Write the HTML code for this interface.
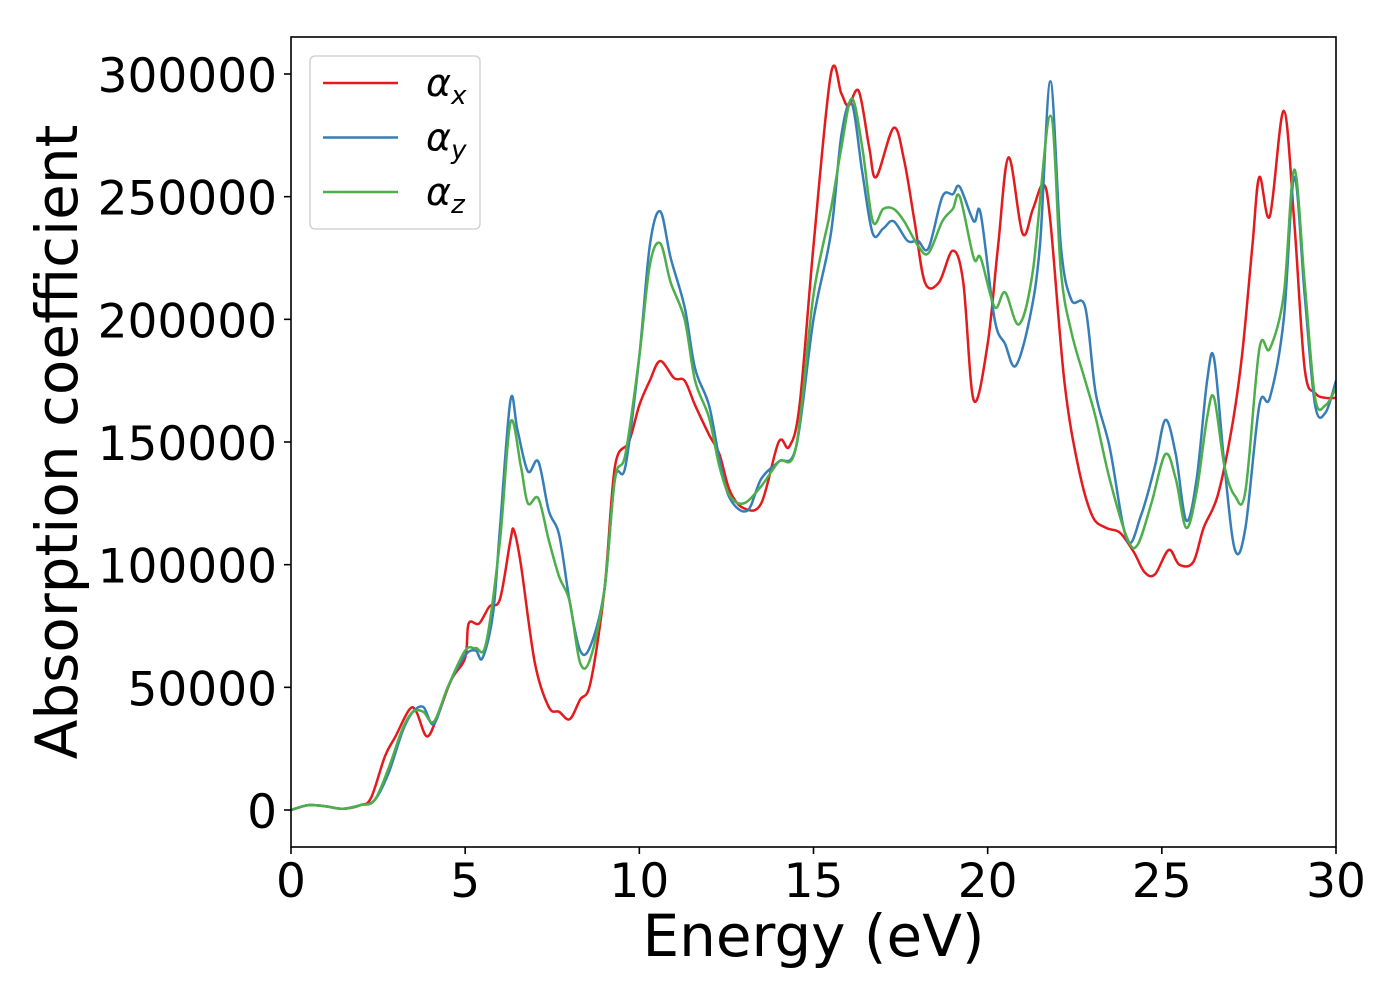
<!DOCTYPE html>
<html><head><meta charset="utf-8"><style>
html,body{margin:0;padding:0;background:#fff;}
svg{display:block;font-family:"DejaVu Sans","Liberation Sans",sans-serif;}
</style></head><body>
<svg id="chart" width="1400" height="1000" viewBox="0 0 1400 1000">
<g id="plot"></g>
</svg>
<script>
const xTicks=[0,5,10,15,20,25,30];
const yTicks=[0,50000,100000,150000,200000,250000,300000];
const seriesNames=["x","y","z"];
const seriesColors=["#e41a1c","#377eb8","#4daf4a"];
const xX=[0,0.5,1,1.5,2,2.3,2.7,3,3.4,3.6,3.9,4.2,4.6,5,5.1,5.4,5.7,6,6.3,6.4,6.6,7,7.4,7.7,8,8.3,8.6,9,9.3,9.7,10,10.3,10.6,11,11.3,11.6,12,12.3,12.6,13,13.5,14,14.3,14.6,15,15.5,15.8,16,16.3,16.6,16.8,17.3,17.6,17.9,18.2,18.6,19,19.3,19.6,20,20.3,20.6,21,21.3,21.6,21.8,22.2,22.6,23,23.4,23.8,24.2,24.5,24.8,25.2,25.5,25.9,26.2,26.6,27,27.3,27.6,27.8,28.1,28.5,28.8,29.1,29.4,29.7,30];
const yX=[0,2000,1500,500,2000,5000,22000,30000,41000,40000,30000,38000,53000,62000,76000,76000,83000,86000,110000,114000,100000,60000,42000,40000,37000,45000,52000,90000,140000,150000,165000,175000,183000,176000,175000,165000,153000,145000,130000,123000,125000,150000,148000,165000,230000,300000,292000,287000,293000,270000,258000,278000,265000,240000,215000,215000,228000,215000,167000,190000,230000,266000,235000,245000,255000,240000,175000,140000,120000,115000,113000,105000,97000,96000,106000,100000,101000,115000,128000,155000,185000,230000,258000,242000,285000,240000,180000,170000,168000,168000];
const xY=[0,0.5,1,1.5,2,2.4,2.8,3.2,3.5,3.8,4.1,4.5,5,5.3,5.5,5.8,6,6.3,6.5,6.8,7.1,7.4,7.7,8,8.3,8.6,9,9.3,9.6,10,10.3,10.6,10.9,11.3,11.6,12,12.3,12.6,13.1,13.5,14,14.5,15,15.5,15.8,16.1,16.4,16.7,17,17.3,17.7,18,18.3,18.7,19,19.2,19.6,19.8,20.2,20.5,20.8,21.2,21.5,21.8,22.1,22.4,22.8,23.1,23.5,24,24.4,24.8,25.1,25.4,25.7,26,26.3,26.5,26.8,27.1,27.4,27.8,28.1,28.5,28.8,29.1,29.4,29.7,30];
const yY=[0,2000,1500,500,2000,4000,15000,32000,40000,42000,35000,50000,63000,65000,62000,80000,115000,167000,155000,138000,142000,122000,112000,85000,65000,67000,90000,135000,140000,185000,230000,244000,225000,205000,180000,165000,143000,127000,122000,135000,142000,148000,200000,235000,275000,288000,260000,235000,237000,240000,232000,232000,229000,250000,251000,254000,240000,243000,200000,190000,181000,200000,230000,297000,230000,208000,205000,170000,148000,110000,120000,140000,159000,145000,118000,135000,175000,184000,140000,106000,115000,165000,168000,200000,258000,210000,165000,162000,175000];
const xZ=[0,0.5,1,1.5,2,2.4,2.8,3.2,3.5,3.8,4.1,4.5,5,5.3,5.6,6,6.3,6.6,6.8,7.1,7.4,7.7,8,8.3,8.6,9,9.3,9.6,10,10.3,10.6,10.9,11.3,11.6,12,12.3,12.6,13,13.5,14,14.5,15,15.5,15.8,16.1,16.4,16.7,17,17.3,17.6,18,18.3,18.7,19,19.2,19.6,19.8,20.2,20.5,20.9,21.3,21.8,22.1,22.4,22.8,23.1,23.5,24,24.3,24.7,25.1,25.4,25.7,26,26.3,26.5,26.8,27.1,27.4,27.8,28.1,28.5,28.8,29.1,29.4,29.7,30];
const yZ=[0,2000,1500,500,2000,4000,17000,33000,40000,40000,36000,50000,65000,66000,68000,110000,158000,140000,125000,127000,110000,95000,85000,60000,62000,90000,135000,145000,185000,222000,231000,215000,200000,175000,160000,140000,128000,125000,132000,142000,148000,210000,245000,270000,290000,270000,240000,245000,245000,240000,230000,227000,240000,245000,250000,225000,225000,205000,211000,198000,220000,283000,220000,195000,175000,160000,135000,111000,108000,125000,145000,135000,115000,130000,160000,168000,140000,128000,130000,188000,188000,210000,261000,215000,168000,165000,172000];

const L=291,R=1336,T=37,B=847,Y0=810,Y300=74;
const sx=v=>L+(v-0)/30*(R-L);
const sy=v=>Y0+(v/300000)*(Y300-Y0);
const NS="http://www.w3.org/2000/svg";
const svg=document.getElementById('chart');
const plot=document.getElementById('plot');
function mk(tag,attrs,parent){const e=document.createElementNS(NS,tag);for(const k in attrs)e.setAttribute(k,attrs[k]);(parent||svg).appendChild(e);return e;}

const clip=mk('clipPath',{id:'clp'});mk('rect',{x:L,y:T,width:R-L,height:B-T},clip);

function pathFor(xs,ys){
  const p=xs.map((x,i)=>[sx(x),sy(ys[i])]);
  let d=`M${p[0][0]},${p[0][1]}`;
  for(let i=0;i<p.length-1;i++){
    const p0=p[Math.max(0,i-1)],p1=p[i],p2=p[i+1],p3=p[Math.min(p.length-1,i+2)];
    const c1=[p1[0]+(p2[0]-p0[0])/6,p1[1]+(p2[1]-p0[1])/6];
    const c2=[p2[0]-(p3[0]-p1[0])/6,p2[1]-(p3[1]-p1[1])/6];
    d+=`C${c1[0]},${c1[1]} ${c2[0]},${c2[1]} ${p2[0]},${p2[1]}`;
  }
  return d;
}
const data=[[xX,yX],[xY,yY],[xZ,yZ]];
data.forEach((s,i)=>{
  const el=mk('path',{d:pathFor(s[0],s[1]),fill:'none',stroke:seriesColors[i],'stroke-width':2.5,'clip-path':'url(#clp)','stroke-linejoin':'round'},plot);
  
  
});
const fr=mk('rect',{x:L,y:T,width:R-L,height:B-T,fill:'none',stroke:'#000','stroke-width':1.6});


xTicks.forEach(t=>{
  const x=sx(t);
  const tk=mk('line',{x1:x,x2:x,y1:B,y2:B+7,stroke:'#000','stroke-width':1.6});
  
  
  const tx=mk('text',{x:x,y:B+50,'font-size':47,'text-anchor':'middle',fill:'#000'});
  tx.textContent=t;
  
  
});
yTicks.forEach(t=>{
  const y=sy(t);
  const tk=mk('line',{x1:L-7,x2:L,y1:y,y2:y,stroke:'#000','stroke-width':1.6});
  
  
  const tx=mk('text',{x:L-14,y:y+18,'font-size':47,'text-anchor':'end',fill:'#000'});
  tx.textContent=t;
  
  
});
const xl=mk('text',{x:(L+R)/2,y:956,'font-size':58,'text-anchor':'middle',fill:'#000'});
xl.textContent='Energy (eV)';


const yl=mk('text',{x:0,y:0,'font-size':58,'text-anchor':'middle',fill:'#000',transform:'translate(77,442) rotate(-90)'});
yl.textContent='Absorption coefficient';


const lg=mk('g',{});


mk('rect',{x:310,y:56,width:170,height:173,rx:5,fill:'#fff',stroke:'#ccc','stroke-width':1.3},lg);
seriesNames.forEach((n,i)=>{
  const y=83+i*54.5;
  const e=mk('g',{},lg);
  
  
  mk('line',{x1:323,x2:398,y1:y,y2:y,stroke:seriesColors[i],'stroke-width':2.5},e);
  const t=mk('text',{x:426,y:y+13,'font-size':38,'font-style':'italic',fill:'#000'},e);
  t.innerHTML='α<tspan font-size="26" dy="8">'+n+'</tspan>';
});
</script>
</body></html>
